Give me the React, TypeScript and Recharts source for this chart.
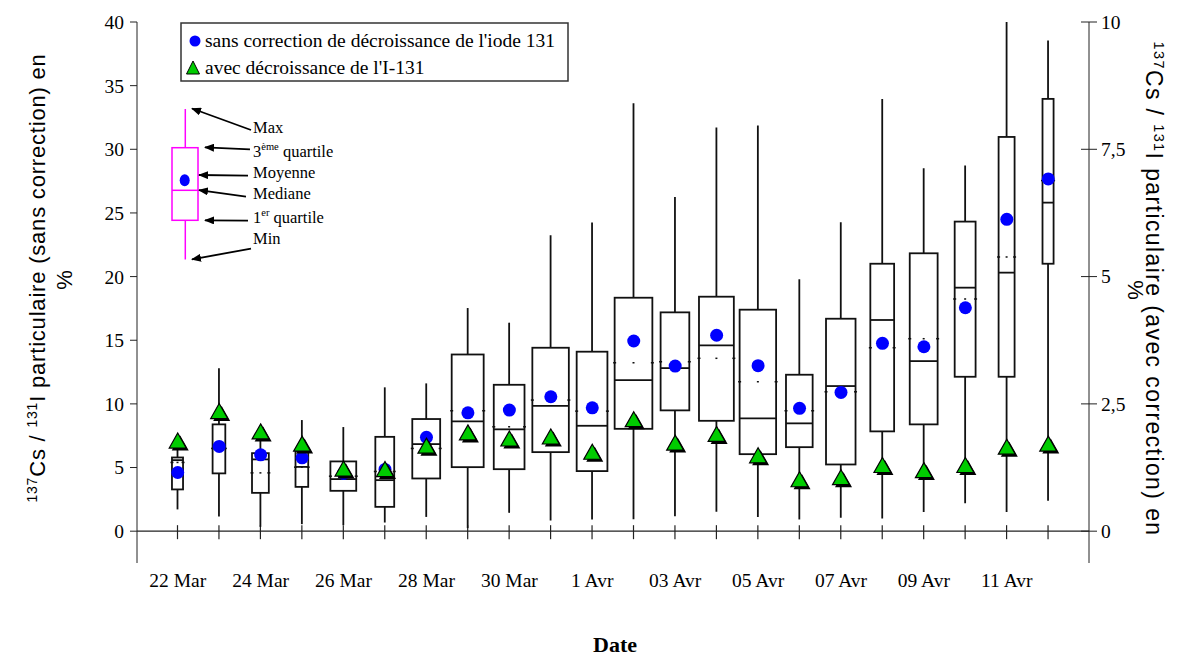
import React from 'react';
import { ComposedChart, XAxis, YAxis, Bar, Line, ReferenceLine } from 'recharts';

// Dates (une boîte par jour de prélèvement)
const dates = [
  '22 Mar', '23 Mar', '24 Mar', '25 Mar', '26 Mar', '27 Mar', '28 Mar', '29 Mar', '30 Mar', '31 Mar', '1 Avr',
  '02 Avr', '03 Avr', '04 Avr', '05 Avr', '06 Avr', '07 Avr', '08 Avr', '09 Avr', '10 Avr', '11 Avr', '12 Avr',
];

// Statistiques du rapport 137Cs / 131I (sans correction), en %
const minimum = [1.71, 1.16, 0.34, 0.55, 0.47, 0.68, 1.12, 0.24, 1.44, 0.84, 0.92, 0.94, 1.18, 1.52, 1.12, 0.92, 1.05, 1.0, 1.5, 2.2, 1.5, 2.4];
const quartile1 = [3.28, 4.54, 3.01, 3.48, 3.17, 1.91, 4.14, 5.03, 4.87, 6.21, 4.72, 8.04, 9.49, 8.67, 6.05, 6.6, 5.24, 7.84, 8.39, 12.13, 12.13, 21.01];
const mediane = [5.58, 6.5, 5.64, 5.05, 4.09, 4.01, 6.84, 8.62, 8.0, 9.85, 8.28, 11.87, 12.81, 14.6, 8.86, 8.47, 11.4, 16.59, 13.36, 19.13, 20.31, 25.81];
const quartile3 = [5.79, 8.39, 6.13, 6.31, 5.48, 7.41, 8.81, 13.88, 11.5, 14.41, 14.1, 18.34, 17.19, 18.42, 17.4, 12.29, 16.69, 21.01, 21.83, 24.32, 30.97, 33.96];
const maximum = [6.6, 12.8, 7.6, 8.73, 8.18, 11.3, 11.61, 17.53, 16.38, 23.25, 24.24, 33.62, 26.26, 31.71, 31.86, 19.79, 24.27, 33.96, 28.51, 28.72, 40, 38.55];
const moyenne = [4.61, 6.66, 6.0, 5.76, 4.54, 4.85, 7.37, 9.3, 9.51, 10.56, 9.69, 14.94, 12.97, 15.39, 13.0, 9.65, 10.9, 14.76, 14.49, 17.55, 24.5, 27.67];
// petits repères pointillés sur les bords des boîtes
const repere = [5.4, 6.5, 4.58, 5.03, 4.32, 4.69, 6.5, 9.46, 8.2, 10.3, 9.43, 13.23, 13.31, 13.58, 11.74, 9.46, 10.95, 14.41, 15.12, 18.24, 21.54, 27.54];
// moyenne avec correction de décroissance de l'I-131 (axe de droite)
const moyenneCorrigee = [1.76, 2.34, 1.94, 1.7, 1.21, 1.2, 1.66, 1.92, 1.8, 1.84, 1.54, 2.18, 1.72, 1.89, 1.47, 1.0, 1.04, 1.28, 1.18, 1.28, 1.64, 1.7];
// largeur relative des boîtes (effectif)
const effectifRelatif = [0.27, 0.31, 0.41, 0.31, 0.63, 0.46, 0.68, 0.78, 0.75, 0.89, 0.75, 0.92, 0.7, 0.85, 0.89, 0.65, 0.72, 0.58, 0.68, 0.51, 0.39, 0.27];

const leftTicks = [0, 5, 10, 15, 20, 25, 30, 35, 40];
const rightTicks = [0, 2.5, 5, 7.5, 10];

const rows = dates.map((date, i) => ({
  date,
  min: minimum[i],
  q1: quartile1[i],
  med: mediane[i],
  q3: quartile3[i],
  max: maximum[i],
  moyenne: moyenne[i],
  repere: repere[i],
  corrigee: moyenneCorrigee[i],
  rel: effectifRelatif[i],
}));

const SERIF = '"Liberation Serif", "Times New Roman", serif';
const SANS = '"Liberation Sans", Arial, sans-serif';

const BoxShape = (props: any) => {
  const { x, y, width, height, payload } = props;
  const { min, max, q1, q3, med, repere: rep, rel } = payload;
  const toY = (v: number) => y + (height * (max - v)) / (max - min);
  const cx = x + width / 2;
  const w = width * rel;
  const l = cx - w / 2;
  const r = cx + w / 2;
  const y0 = toY(0);
  return (
    <g>
      <line x1={cx} x2={cx} y1={y0 - 6} y2={y0 + 8} stroke="#222" strokeWidth={1.2} />
      <line x1={cx} x2={cx} y1={toY(max)} y2={toY(min)} stroke="#111" strokeWidth={1.8} />
      <rect x={l} y={toY(q3)} width={w} height={toY(q1) - toY(q3)} fill="#fff" stroke="#111" strokeWidth={1.8} />
      <line x1={l} x2={r} y1={toY(med)} y2={toY(med)} stroke="#111" strokeWidth={1.8} />
      <line x1={l - 1.5} x2={l + 1.5} y1={toY(rep)} y2={toY(rep)} stroke="#111" strokeWidth={1.5} />
      <line x1={r - 1.5} x2={r + 1.5} y1={toY(rep)} y2={toY(rep)} stroke="#111" strokeWidth={1.5} />
      <line x1={cx - 1} x2={cx + 1} y1={toY(rep)} y2={toY(rep)} stroke="#111" strokeWidth={1.5} />
    </g>
  );
};

const BlueDot = (props: any) => {
  const { cx, cy, index } = props;
  return <circle key={`m${index}`} cx={cx} cy={cy} r={6.5} fill="#0000ff" />;
};

const triPath = (cx: number, cy: number, s = 1) =>
  `M${cx},${cy - 8.5 * s} L${cx + 8.5 * s},${cy + 6.5 * s} L${cx - 8.5 * s},${cy + 6.5 * s} Z`;

const GreenTriangle = (props: any) => {
  const { cx, cy, index } = props;
  return (
    <g key={`t${index}`}>
      <path d={triPath(cx + 2.5, cy + 2.5)} fill="#000" />
      <path d={triPath(cx, cy)} fill="#00cc00" stroke="#000" strokeWidth={1.2} />
    </g>
  );
};

const DateTick = (props: any) => {
  const { x, y, payload } = props;
  return (
    <text x={x} y={y + 16} textAnchor="middle" fontFamily={SERIF} fontSize={19.5} fill="#000">
      {payload.value}
    </text>
  );
};

const RightTick = (props: any) => {
  const { x, y, payload } = props;
  return (
    <g>
      <line x1={x - 20} x2={x - 12} y1={y} y2={y} stroke="#222" strokeWidth={1} />
      <text x={x} y={y} dy="0.35em" textAnchor="start" fontFamily={SERIF} fontSize={19.5} fill="#000">
        {String(payload.value).replace('.', ',')}
      </text>
    </g>
  );
};

const Overlay = () => (
  <svg width={1182} height={659} style={{ position: 'absolute', left: 0, top: 0, pointerEvents: 'none' }}>
    <defs>
      <marker id="fleche" markerWidth="10" markerHeight="8" refX="9" refY="4" orient="auto" markerUnits="userSpaceOnUse">
        <path d="M0,0 L10,4 L0,8 Z" fill="#000" />
      </marker>
    </defs>

    {/* légende */}
    <rect x={181} y={23} width={387} height={58} fill="#fff" stroke="#333" strokeWidth={1.5} />
    <circle cx={195} cy={41} r={5.5} fill="#0000ff" />
    <text x={205} y={47} fontFamily={SERIF} fontSize={19.5} fill="#000">sans correction de décroissance de l'iode 131</text>
    <path d="M193,61 L199.5,74 L186.5,74 Z" fill="#00cc00" stroke="#000" strokeWidth={1} />
    <text x={205} y={74} fontFamily={SERIF} fontSize={19.5} fill="#000">avec décroissance de l'I-131</text>

    {/* boîte explicative */}
    <g stroke="#ff00ff" strokeWidth={1.5} fill="none">
      <line x1={185.3} x2={185.3} y1={109} y2={148} />
      <line x1={185.3} x2={185.3} y1={220} y2={259.5} />
      <rect x={172} y={147.7} width={26} height={72.6} />
      <line x1={172} x2={198} y1={190.3} y2={190.3} />
    </g>
    <ellipse cx={184.7} cy={180.3} rx={5} ry={6} fill="#0000ff" />
    <g stroke="#000" strokeWidth={1.8} markerEnd="url(#fleche)">
      <line x1={251} y1={130} x2={192} y2={108.5} />
      <line x1={250} y1={149.3} x2={205} y2={147.3} />
      <line x1={248} y1={175.7} x2={199} y2={175} />
      <line x1={246} y1={196.7} x2={199} y2={190.2} />
      <line x1={248} y1={220.7} x2={205} y2={220.3} />
      <line x1={251} y1={248.7} x2={192} y2={259.3} />
    </g>
    <g fontFamily={SERIF} fontSize={16.5} fill="#000">
      <text x={253} y={133}>Max</text>
      <text x={253} y={157}>3<tspan fontSize={10.5} dy={-7}>ème</tspan><tspan dy={7}> quartile</tspan></text>
      <text x={253} y={178}>Moyenne</text>
      <text x={253} y={199}>Mediane</text>
      <text x={253} y={223}>1<tspan fontSize={10.5} dy={-7}>er</tspan><tspan dy={7}> quartile</tspan></text>
      <text x={253} y={244}>Min</text>
    </g>

    {/* titres des axes */}
    <g fontFamily={SANS} fill="#000">
      <text transform="translate(45,278) rotate(-90)" textAnchor="middle" fontSize={22} letterSpacing={0.8}>
        <tspan fontSize={14} dy={-8}>137</tspan>
        <tspan dy={8}>Cs /  </tspan>
        <tspan fontSize={14} dy={-8}>131</tspan>
        <tspan dy={8}>I particulaire (sans correction) en</tspan>
      </text>
      <text transform="translate(72,280) rotate(-90)" textAnchor="middle" fontSize={22}>%</text>
      <text transform="translate(1146,289) rotate(90)" textAnchor="middle" fontSize={23} letterSpacing={1.4}>
        <tspan fontSize={14.5} dy={-8}>137</tspan>
        <tspan dy={8}>Cs /   </tspan>
        <tspan fontSize={14.5} dy={-8}>131</tspan>
        <tspan dy={8}>I particulaire (avec correction) en</tspan>
      </text>
      <text transform="translate(1128,290) rotate(90)" textAnchor="middle" fontSize={22}>%</text>
    </g>

    <text x={615} y={652} textAnchor="middle" fontFamily={SERIF} fontSize={22} fontWeight="bold" fill="#000">
      Date
    </text>
  </svg>
);

const App: React.FC = () => {
  return (
    <div style={{ position: 'absolute', left: 0, top: 0, width: 1182, height: 659, background: '#fff' }}>
      <ComposedChart
        width={1182}
        height={659}
        data={rows}
        margin={{ top: 22, right: 33, bottom: 56, left: 77 }}
        barCategoryGap={0}
        barGap={0}
      >
        <XAxis
          dataKey="date"
          type="category"
          padding={{ left: 20, right: 20 }}
          axisLine={false}
          tickLine={false}
          interval={1}
          height={40}
          tick={<DateTick />}
        />
        <YAxis
          yAxisId="left"
          domain={[-2.5, 40]}
          ticks={leftTicks}
          allowDataOverflow
          width={60}
          axisLine={{ stroke: '#222', strokeWidth: 1 }}
          tickLine={{ stroke: '#222', strokeWidth: 1 }}
          tickSize={7}
          tickMargin={6}
          tick={{ fontFamily: SERIF, fontSize: 19.5, fill: '#000' }}
        />
        <YAxis
          yAxisId="right"
          orientation="right"
          domain={[-0.625, 10]}
          ticks={rightTicks}
          allowDataOverflow
          width={60}
          axisLine={{ stroke: '#222', strokeWidth: 1 }}
          tickLine={{ stroke: '#222', strokeWidth: 1 }}
          tickSize={8}
          tickMargin={4}
          tick={<RightTick />}
        />
        <ReferenceLine yAxisId="left" y={0} stroke="#222" strokeWidth={1.2} />
        <Bar
          yAxisId="left"
          dataKey={(d: any) => [d.min, d.max]}
          shape={BoxShape}
          isAnimationActive={false}
        />
        <Line
          yAxisId="left"
          dataKey="moyenne"
          stroke="none"
          dot={BlueDot}
          activeDot={false}
          isAnimationActive={false}
        />
        <Line
          yAxisId="right"
          dataKey="corrigee"
          stroke="none"
          dot={GreenTriangle}
          activeDot={false}
          isAnimationActive={false}
        />
      </ComposedChart>
      <Overlay />
    </div>
  );
};

export default App;
